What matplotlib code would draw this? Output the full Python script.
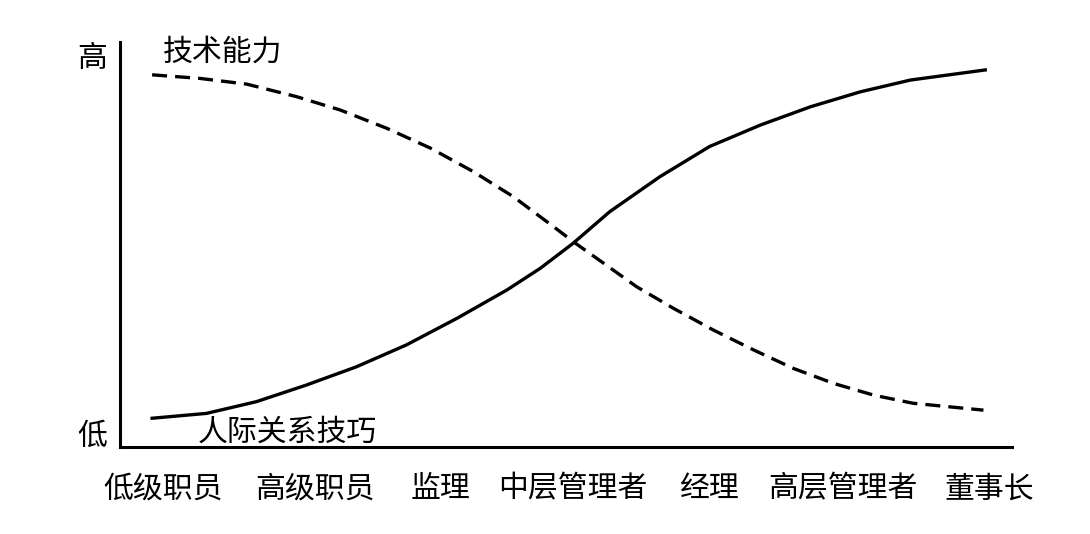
import matplotlib.pyplot as plt

plt.rcParams['font.family'] = ['Noto Sans CJK SC', 'DejaVu Sans']
plt.rcParams['lines.scale_dashes'] = False

# 职位（横轴）
positions = ['低级职员', '高级职员', '监理', '中层管理者', '经理', '高层管理者', '董事长']
pos_x = [4.8, 21.9, 35.9, 50.8, 66.1, 81.1, 97.5]

# 技术能力（虚线）
tech_x = [3.6, 9.0, 14.2, 19.8, 24.7, 29.9, 34.8, 39.6, 44.1, 48.6, 51.0,
          54.2, 57.9, 62.0, 66.5, 71.0, 75.5, 80.0, 84.5, 88.9, 96.8]
tech_y = [91.9, 91.0, 89.6, 86.5, 83.2, 78.7, 73.8, 68.0, 61.8, 54.4, 50.4,
          45.4, 39.6, 34.3, 28.9, 24.0, 19.4, 15.7, 12.8, 10.8, 9.1]

# 人际关系技巧（实线）
people_x = [3.6, 9.7, 15.3, 20.9, 26.5, 32.1, 37.8, 43.4, 47.1, 50.8,
            54.9, 60.5, 66.1, 71.8, 77.4, 83.0, 88.6, 97.0]
people_y = [7.1, 8.3, 11.2, 15.3, 19.8, 25.2, 31.8, 38.8, 44.1, 50.3,
            58.1, 66.7, 74.2, 79.5, 84.0, 87.7, 90.6, 93.1]

fig = plt.figure(figsize=(10.9, 5.34), dpi=100)
ax = fig.add_axes([120/1090, 87/534, 892/1090, 405/534])

ax.plot(tech_x, tech_y, color='black', lw=2.4, linestyle=(0, (10.8, 5.8)))
ax.plot(people_x, people_y, color='black', lw=2.4)

ax.set_xlim(0, 100)
ax.set_ylim(0, 100)
for s in ['top', 'right']:
    ax.spines[s].set_visible(False)
for s in ['left', 'bottom']:
    ax.spines[s].set_linewidth(2.2)

ax.set_xticks(pos_x)
ax.set_xticklabels(positions, fontsize=21.5)
ax.set_yticks([3.5, 96.8])
ax.set_yticklabels(['低', '高'], fontsize=21.5)
ax.tick_params(axis='x', length=0, pad=19)
ax.tick_params(axis='y', length=0, pad=9)

ax.text(4.8, 97.5, '技术能力', fontsize=21.5, ha='left', va='center')
ax.text(8.7, 3.7, '人际关系技巧', fontsize=21.5, ha='left', va='center')

fig.savefig('out.png', dpi=100)
